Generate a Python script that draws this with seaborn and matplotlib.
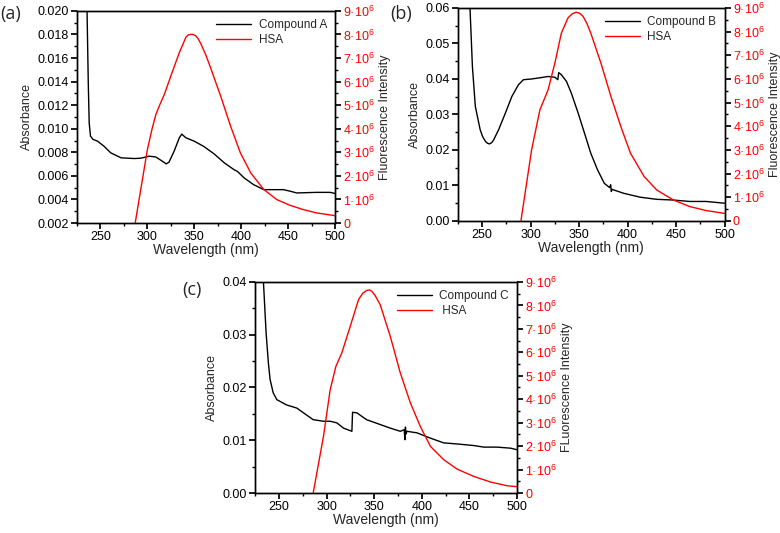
import numpy as np
import pandas as pd
import seaborn as sns
import matplotlib
matplotlib.use("Agg")
import matplotlib.pyplot as plt
from matplotlib.ticker import MultipleLocator, FixedLocator, FixedFormatter

# ---------------- data ----------------
# Panel (a)
a_abs_x = [225, 233, 235.5, 237, 238, 239.4, 242, 247, 254, 261, 272, 286, 293, 302, 309, 316, 320, 323,
           328.5, 334, 336.6, 341, 350, 360, 371, 382, 392, 396, 403, 413, 424, 434.6, 445, 452, 459, 480,
           494.7, 500]
a_abs_y = [0.05, 0.03, 0.021, 0.014, 0.0105, 0.00937, 0.0091, 0.00894, 0.0085, 0.00795, 0.00753, 0.00747,
           0.0075, 0.00767, 0.0076, 0.00724, 0.00702, 0.00716, 0.0081, 0.00923, 0.00954, 0.00923, 0.00894,
           0.0085, 0.00787, 0.0071, 0.00654, 0.00637, 0.00583, 0.00526, 0.00483, 0.00483, 0.00483, 0.0047,
           0.00455, 0.0046, 0.0046, 0.0045]
a_hsa_x = [287, 300, 305, 309, 313, 318, 325, 334, 338, 341, 343.5, 346, 348.5, 351.5, 354, 357, 362, 367,
           378, 388.6, 399, 410, 424, 438, 452, 466, 480, 500]
a_hsa_y = [0, 3.12e6, 4.0e6, 4.6e6, 5.0e6, 5.45e6, 6.24e6, 7.23e6, 7.6e6, 7.88e6, 7.98e6, 8.0e6, 8.0e6,
           7.94e6, 7.82e6, 7.6e6, 7.15e6, 6.62e6, 5.39e6, 4.11e6, 2.98e6, 2.13e6, 1.42e6, 0.99e6, 0.75e6,
           0.57e6, 0.43e6, 0.31e6]

# Panel (b)
b_abs_x = [225, 236, 240, 243, 248, 250.5, 253.5, 255.5, 257.5, 260, 262, 267, 274, 280.7, 287.5, 292.6,
           301, 311, 318, 325, 328, 329, 331.7, 337, 342, 349, 355.6, 362, 369, 376, 381.5, 382.5, 383.2,
           384, 396, 413, 430, 447, 464, 481, 500]
b_abs_y = [0.09, 0.07, 0.0435, 0.0323, 0.0257, 0.0238, 0.0224, 0.0219, 0.0217, 0.0221, 0.0229, 0.0257,
           0.0304, 0.0351, 0.0384, 0.0398, 0.0400, 0.0404, 0.0407, 0.0405, 0.0398, 0.0418, 0.0412, 0.0393,
           0.036, 0.0304, 0.0247, 0.0191, 0.0144, 0.0106, 0.0094, 0.0102, 0.0083, 0.0089, 0.0078, 0.0067,
           0.0061, 0.0059, 0.0055, 0.0055, 0.0050]
b_hsa_x = [290, 301, 309.6, 318, 325, 331.7, 338.5, 343, 347, 350.5, 354, 358, 362, 372.5, 382.8, 393, 403,
           417, 430, 447, 464, 481, 500]
b_hsa_y = [0, 3.0e6, 4.7e6, 5.54e6, 6.67e6, 7.94e6, 8.58e6, 8.76e6, 8.82e6, 8.78e6, 8.65e6, 8.35e6,
           7.94e6, 6.67e6, 5.26e6, 3.99e6, 2.86e6, 1.88e6, 1.31e6, 0.89e6, 0.61e6, 0.44e6, 0.32e6]

# Panel (c)
c_abs_x = [225, 233.8, 236.6, 239, 240.8, 244, 247.8, 258, 268.8, 275.8, 286, 296.8, 303.8, 310.8, 317.8,
           326.6, 327.3, 331.8, 342, 356, 366.9, 377.4, 381.5, 382.2, 382.8, 383.4, 384.4, 395, 409, 423,
           437, 454.4, 465, 479, 493, 500]
c_abs_y = [0.08, 0.04, 0.0303, 0.0246, 0.0215, 0.019, 0.0177, 0.0167, 0.0161, 0.0152, 0.0139, 0.0136,
           0.0136, 0.0133, 0.0123, 0.0117, 0.0153, 0.0152, 0.0139, 0.013, 0.0123, 0.0117, 0.0120, 0.0101,
           0.0125, 0.0112, 0.0117, 0.0114, 0.0104, 0.0095, 0.0093, 0.009, 0.0087, 0.0087, 0.0085, 0.0082]
c_hsa_x = [286, 296.8, 303.8, 309.8, 316, 324.8, 333.6, 338, 342.3, 345, 347.6, 351, 356.3, 366.9, 377.4,
           388, 398.4, 409, 423, 437, 454.4, 472, 489.4, 500]
c_hsa_y = [0, 2.42e6, 4.4e6, 5.4e6, 5.97e6, 7.1e6, 8.25e6, 8.52e6, 8.64e6, 8.66e6, 8.6e6, 8.42e6, 8.03e6,
           6.68e6, 5.12e6, 3.84e6, 2.84e6, 1.99e6, 1.42e6, 1.02e6, 0.71e6, 0.47e6, 0.31e6, 0.27e6]

fl_tick_values = [0, 1e6, 2e6, 3e6, 4e6, 5e6, 6e6, 7e6, 8e6, 9e6]
fl_tick_labels = ["0"] + [f"{i}·10$^6$" for i in range(1, 10)]
x_ticks = [250, 300, 350, 400, 450, 500]

# ---------------- style ----------------
sns.set_theme(style="ticks")
plt.rcParams["font.family"] = ["Liberation Sans", "DejaVu Sans"]
plt.rcParams["mathtext.default"] = "regular"
plt.rcParams["axes.linewidth"] = 1.0
plt.rcParams["xtick.major.size"] = 4
plt.rcParams["ytick.major.size"] = 4
plt.rcParams["xtick.minor.size"] = 2
plt.rcParams["ytick.minor.size"] = 2

fs = 9
fig = plt.figure(figsize=(7.8, 5.33), dpi=100)

panels = [
    dict(rect=[0.0987, 0.5816, 0.331, 0.398], ax_x=a_abs_x, ax_y=a_abs_y, hx=a_hsa_x, hy=a_hsa_y,
         ylim=(0.002, 0.020), ymaj=0.002, ymin=0.001, yfmt="{:.3f}", name="Compound A", hsa="HSA",
         flab="Fluorescence Intensity", tag="(a)", tagpos=(0.0, 0.99)),
    dict(rect=[0.587, 0.5854, 0.342, 0.3996], ax_x=b_abs_x, ax_y=b_abs_y, hx=b_hsa_x, hy=b_hsa_y,
         ylim=(0.0, 0.06), ymaj=0.01, ymin=0.005, yfmt="{:.2f}", name="Compound B", hsa="HSA",
         flab="Fluorescence Intensity", tag="(b)", tagpos=(0.5, 0.99)),
    dict(rect=[0.327, 0.075, 0.336, 0.396], ax_x=c_abs_x, ax_y=c_abs_y, hx=c_hsa_x, hy=c_hsa_y,
         ylim=(0.0, 0.04), ymaj=0.01, ymin=0.005, yfmt="{:.2f}", name="Compound C", hsa=" HSA",
         flab="FLuorescence Intensity", tag="(c)", tagpos=(0.234, 0.472)),
]

for p in panels:
    ax = fig.add_axes(p["rect"])
    df_abs = pd.DataFrame({"Wavelength": p["ax_x"], "Absorbance": p["ax_y"]})
    df_hsa = pd.DataFrame({"Wavelength": p["hx"], "Intensity": p["hy"]})
    sns.lineplot(data=df_abs, x="Wavelength", y="Absorbance", ax=ax, color="black", lw=1.0,
                 label=p["name"], legend=False)
    ax.set_xlim(225, 500)
    ax.set_ylim(*p["ylim"])
    ax.xaxis.set_major_locator(FixedLocator(x_ticks))
    ax.xaxis.set_minor_locator(MultipleLocator(25))
    ax.yaxis.set_major_locator(MultipleLocator(p["ymaj"]))
    ax.yaxis.set_minor_locator(MultipleLocator(p["ymin"]))
    ax.yaxis.set_major_formatter(plt.FuncFormatter(lambda v, pos, f=p["yfmt"]: f.format(v)))
    ax.tick_params(axis="both", which="both", direction="out", labelsize=fs, colors="black",
                   pad=2)
    ax.tick_params(axis="x", top=False)
    ax.set_xlabel("Wavelength (nm)", fontsize=10, labelpad=0)
    ax.set_ylabel("Absorbance", fontsize=9, labelpad=3)

    ax2 = ax.twinx()
    sns.lineplot(data=df_hsa, x="Wavelength", y="Intensity", ax=ax2, color="red", lw=1.0,
                 label=p["hsa"], legend=False)
    ax2.set_ylim(0, 9e6)
    ax2.yaxis.set_major_locator(FixedLocator(fl_tick_values))
    ax2.yaxis.set_major_formatter(FixedFormatter(fl_tick_labels))
    ax2.yaxis.set_minor_locator(MultipleLocator(0.5e6))
    ax2.tick_params(axis="y", which="both", direction="out", labelsize=fs, labelcolor="red",
                    colors="black", pad=2)
    for lab in ax2.get_yticklabels():
        lab.set_color("red")
    ax2.set_ylabel(p["flab"], fontsize=9, labelpad=3)
    ax2.set_xlim(225, 500)
    for sp in list(ax.spines.values()) + list(ax2.spines.values()):
        sp.set_color("black")
        sp.set_linewidth(1.0)

    h1, l1 = ax.get_legend_handles_labels()
    h2, l2 = ax2.get_legend_handles_labels()
    ax2.legend(h1 + h2, l1 + l2, loc="upper right", frameon=False, fontsize=8.5,
               handlelength=3.0, borderaxespad=0.3, labelspacing=0.25, handletextpad=0.6)

    fig.text(p["tagpos"][0], p["tagpos"][1], p["tag"], fontsize=13, ha="left", va="top",
             family=["Open Sans", "DejaVu Sans"])

fig.savefig("out.png", dpi=100, facecolor="white")
